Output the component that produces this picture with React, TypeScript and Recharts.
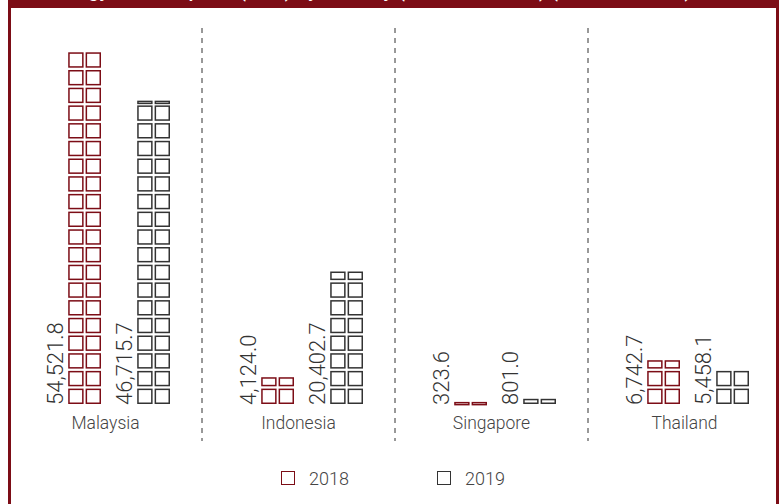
import { Bar, BarChart, LabelList, XAxis, YAxis } from "recharts";

const countries = ["Malaysia", "Indonesia", "Singapore", "Thailand"];
const values2018 = [54521.8, 4124.0, 323.6, 6742.7];
const values2019 = [46715.7, 20402.7, 801.0, 5458.1];
const seriesNames = ["2018", "2019"];
const title = "Energy Consumption (ktoe) by Country (Selected Peers) (2018 vs. 2019)";

const W = 782;
const H = 504;
const RED = "#7c0d16";
const GREY = "#333333";
const FONT = "Roboto, 'Liberation Sans', sans-serif";

const data = countries.map((c, i) => ({ country: c, y2018: values2018[i], y2019: values2019[i] }));

const margin = { top: 14.4, right: 1, bottom: 0, left: 9 };
const halfBand = (W - margin.left - margin.right) / countries.length / 2;

// pictogram: 2 squares a row, row pitch fixed, top row clipped to bar height
const SQ = 15.4;
const PX = 17.4;
const PY = 17.7;
const SW = 1.5;

const fmt = (v: number) =>
  v.toLocaleString("en-US", { minimumFractionDigits: 1, maximumFractionDigits: 1 });

function Squares(props: any) {
  const { x, y, width, height, color } = props;
  if (height == null || height <= 0) return null;
  const bottom = y + height;
  const left = x + width - (SQ + PX);
  const rects = [];
  for (let k = 0; height - k * PY > 0.5; k++) {
    const rowBottom = bottom - k * PY;
    const h = Math.min(SQ, height - k * PY);
    for (let c = 0; c < 2; c++) {
      rects.push(
        <rect
          key={`${k}-${c}`}
          x={left + c * PX + SW / 2}
          y={rowBottom - h + SW / 2}
          width={SQ - SW}
          height={Math.max(h - SW, 2)}
          fill="#fff"
          stroke={color}
          strokeWidth={SW}
        />
      );
    }
  }
  return <g>{rects}</g>;
}

function ValueLabel(props: any) {
  const { x, y, height, value } = props;
  const cx = x + 14;
  const by = y + height + 1;
  return (
    <text
      x={cx}
      y={by}
      transform={`rotate(-90 ${cx} ${by})`}
      textAnchor="start"
      dominantBaseline="central"
      fontFamily={FONT}
      fontWeight={300}
      fontSize={22}
      fill={GREY}
    >
      {fmt(value)}
    </text>
  );
}

function CountryTick(props: any) {
  const { x, y, payload, index } = props;
  return (
    <g>
      {index > 0 && (
        <line x1={x - halfBand} x2={x - halfBand} y1={28} y2={441} stroke={GREY} strokeWidth={1} strokeDasharray="5 5" />
      )}
      <text
        x={x}
        y={y + 19}
        textAnchor="middle"
        dominantBaseline="central"
        fontFamily={FONT}
        fontWeight={300}
        fontSize={17.5}
        fill="#444"
      >
        {payload.value}
      </text>
    </g>
  );
}

export default function App() {
  return (
    <div style={{ position: "absolute", left: 0, top: 0, width: W, height: H, background: "#fff", fontFamily: FONT }}>
      <BarChart width={W} height={H} data={data} margin={margin} barGap={9}>
        <XAxis
          dataKey="country"
          axisLine={false}
          tickLine={false}
          tickSize={0}
          tickMargin={0}
          height={100}
          interval={0}
          tick={<CountryTick />}
        />
        <YAxis hide domain={[0, 60000]} />
        <Bar dataKey="y2018" barSize={60} isAnimationActive={false} shape={<Squares color={RED} />}>
          <LabelList dataKey="y2018" content={<ValueLabel />} />
        </Bar>
        <Bar dataKey="y2019" barSize={60} isAnimationActive={false} shape={<Squares color={GREY} />}>
          <LabelList dataKey="y2019" content={<ValueLabel />} />
        </Bar>
      </BarChart>

      {/* frame */}
      <div style={{ position: "absolute", left: 8, top: 0, width: 771, height: 7.5, background: RED, overflow: "hidden" }}>
        <div
          style={{
            position: "absolute",
            top: -20,
            left: 40,
            whiteSpace: "nowrap",
            color: "#fff",
            fontSize: 20,
            lineHeight: "20px",
            fontWeight: 500,
          }}
        >
          {title}
        </div>
      </div>
      <div style={{ position: "absolute", left: 8, top: 0, width: 2.7, height: H, background: RED }} />
      <div style={{ position: "absolute", left: 776, top: 0, width: 2.7, height: H, background: RED }} />

      {/* legend */}
      {seriesNames.map((name, i) => (
        <div
          key={name}
          style={{
            position: "absolute",
            left: i === 0 ? 281 : 437,
            top: 469,
            height: 18,
            display: "flex",
            alignItems: "center",
            fontSize: 18,
            fontWeight: 300,
            color: "#444",
          }}
        >
          <span
            style={{
              display: "inline-block",
              width: 12,
              height: 12,
              border: `1.5px solid ${i === 0 ? RED : GREY}`,
              marginRight: 14,
            }}
          />
          {name}
        </div>
      ))}
    </div>
  );
}
